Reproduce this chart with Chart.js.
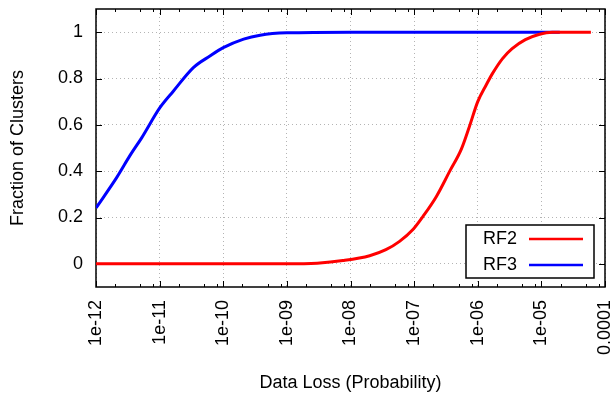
<!DOCTYPE html>
<html>
<head>
<meta charset="utf-8">
<script src="https://cdn.jsdelivr.net/npm/chart.js@4"></script>
<style>
  html, body { margin: 0; padding: 0; background: #fff; }
  #wrap { width: 613px; height: 396px; }
</style>
</head>
<body>
<div id="wrap"><canvas id="lossChart" width="613" height="396"></canvas></div>
<script>
// CDF of per-cluster data loss probability
const rf2Loss = [1e-12, 1e-9, 3e-9, 7.6e-9, 2e-8, 3.6e-8, 5.9e-8, 9.5e-8, 1.38e-7, 2.24e-7, 3.63e-7,
                 5.5e-7, 7.4e-7, 1e-6, 1.35e-6, 1.7e-6, 2.45e-6, 3.47e-6, 5.6e-6, 9.1e-6, 1.48e-5, 6e-5];
const rf2Frac = [0, 0, 0.003, 0.014, 0.035, 0.061, 0.097, 0.147, 0.205, 0.291, 0.40,
                 0.494, 0.593, 0.70, 0.771, 0.821, 0.886, 0.929, 0.968, 0.99, 1.0, 1.0];

const rf3Loss = [1e-12, 2.11e-12, 3.43e-12, 5.25e-12, 1.01e-11, 1.64e-11, 3.39e-11, 6.17e-11,
                 1e-10, 2.09e-10, 3.8e-10, 1e-9, 1e-8, 1.95e-5];
const rf3Frac = [0.241, 0.372, 0.468, 0.545, 0.674, 0.745, 0.847, 0.897,
                 0.933, 0.97, 0.987, 0.997, 1.0, 1.0];

const xTicks = [1e-12, 1e-11, 1e-10, 1e-9, 1e-8, 1e-7, 1e-6, 1e-5, 1e-4];
const xTickLabels = ['1e-12', '1e-11', '1e-10', '1e-09', '1e-08', '1e-07', '1e-06', '1e-05', '0.0001'];
const yTicks = [0, 0.2, 0.4, 0.6, 0.8, 1];

Chart.defaults.font.family = '"Liberation Sans", Arial, sans-serif';
Chart.defaults.font.size = 18;
Chart.defaults.color = '#000';

const gridStyle = {
    color: '#b4b4b4',
    lineWidth: 1,
    drawTicks: false
};
// v4 takes the grid line dash from the border options
const borderStyle = { display: false, dash: [1, 3] };

// border box with inward ticks, gnuplot style
const framePlugin = {
    id: 'frame',
    beforeDatasetsDraw(chart) {
        const { ctx, chartArea: a, scales: { x, y } } = chart;
        ctx.save();
        ctx.strokeStyle = '#000';
        ctx.lineWidth = 1;
        ctx.beginPath();
        xTicks.forEach((v, i) => {
            const px = Math.round(x.getPixelForValue(v)) + 0.5;
            ctx.moveTo(px, a.bottom); ctx.lineTo(px, a.bottom - 6);
            ctx.moveTo(px, a.top); ctx.lineTo(px, a.top + 6);
            if (i < xTicks.length - 1) {
                [2, 5, 8].forEach(m => {
                    const mx = Math.round(x.getPixelForValue(v * m)) + 0.5;
                    ctx.moveTo(mx, a.bottom); ctx.lineTo(mx, a.bottom - 3);
                    ctx.moveTo(mx, a.top); ctx.lineTo(mx, a.top + 3);
                });
            }
        });
        yTicks.forEach(v => {
            const py = Math.round(y.getPixelForValue(v)) + 0.5;
            ctx.moveTo(a.left, py); ctx.lineTo(a.left + 6, py);
            ctx.moveTo(a.right, py); ctx.lineTo(a.right - 6, py);
        });
        ctx.stroke();
        ctx.lineWidth = 1.5;
        ctx.strokeRect(a.left, a.top, a.right - a.left, a.bottom - a.top);
        ctx.restore();
    }
};

// boxed key in the lower right corner
const keyPlugin = {
    id: 'key',
    afterDatasetsDraw(chart) {
        const { ctx, chartArea: a } = chart;
        const left = a.right - 139, top = a.bottom - 62, w = 128, h = 53;
        ctx.save();
        ctx.fillStyle = '#fff';
        ctx.fillRect(left, top, w, h);
        ctx.strokeStyle = '#000';
        ctx.lineWidth = 1.5;
        ctx.strokeRect(left, top, w, h);
        ctx.font = '18px "Liberation Sans", Arial, sans-serif';
        ctx.textBaseline = 'middle';
        chart.data.datasets.forEach((ds, i) => {
            const cy = top + 14 + i * 26;
            ctx.fillStyle = '#000';
            ctx.textAlign = 'left';
            ctx.fillText(ds.label, left + 17, cy);
            ctx.strokeStyle = ds.borderColor;
            ctx.lineWidth = 2.5;
            ctx.beginPath();
            ctx.moveTo(left + 63, cy);
            ctx.lineTo(left + 117, cy);
            ctx.stroke();
        });
        ctx.restore();
    }
};

new Chart(document.getElementById('lossChart'), {
    type: 'line',
    data: {
        datasets: [{
            label: 'RF2',
            data: rf2Loss.map((v, i) => ({ x: v, y: rf2Frac[i] })),
            borderColor: '#ff0000',
            borderWidth: 3
        }, {
            label: 'RF3',
            data: rf3Loss.map((v, i) => ({ x: v, y: rf3Frac[i] })),
            borderColor: '#0000ff',
            borderWidth: 3
        }]
    },
    options: {
        responsive: false,
        animation: false,
        layout: { padding: { left: 0, right: 8, top: 9, bottom: 0 } },
        elements: { point: { radius: 0 }, line: { cubicInterpolationMode: 'monotone' } },
        plugins: {
            legend: { display: false },
            tooltip: { enabled: false }
        },
        scales: {
            x: {
                type: 'logarithmic',
                min: 1e-12,
                max: 1e-4,
                afterBuildTicks: s => { s.ticks = xTicks.map(v => ({ value: v })); },
                afterFit: s => { s.height = 109; s.paddingLeft = 0; s.paddingRight = 0; },
                grid: gridStyle,
                border: borderStyle,
                ticks: {
                    autoSkip: false,
                    minRotation: 90,
                    maxRotation: 90,
                    padding: 13,
                    callback: (v, i) => xTickLabels[i]
                },
                title: {
                    display: true,
                    text: 'Data Loss (Probability)',
                    padding: { top: 0, bottom: 2 }
                }
            },
            y: {
                min: -0.1,
                max: 1.1,
                afterBuildTicks: s => { s.ticks = yTicks.map(v => ({ value: v })); },
                afterFit: s => { s.width = 96; s.paddingTop = 0; s.paddingBottom = 0; },
                grid: gridStyle,
                border: borderStyle,
                ticks: {
                    padding: 13,
                    callback: v => String(+v.toFixed(1))
                },
                title: {
                    display: true,
                    text: 'Fraction of Clusters',
                    padding: { top: 7, bottom: 0 }
                }
            }
        }
    },
    plugins: [framePlugin, keyPlugin]
});
</script>
</body>
</html>
